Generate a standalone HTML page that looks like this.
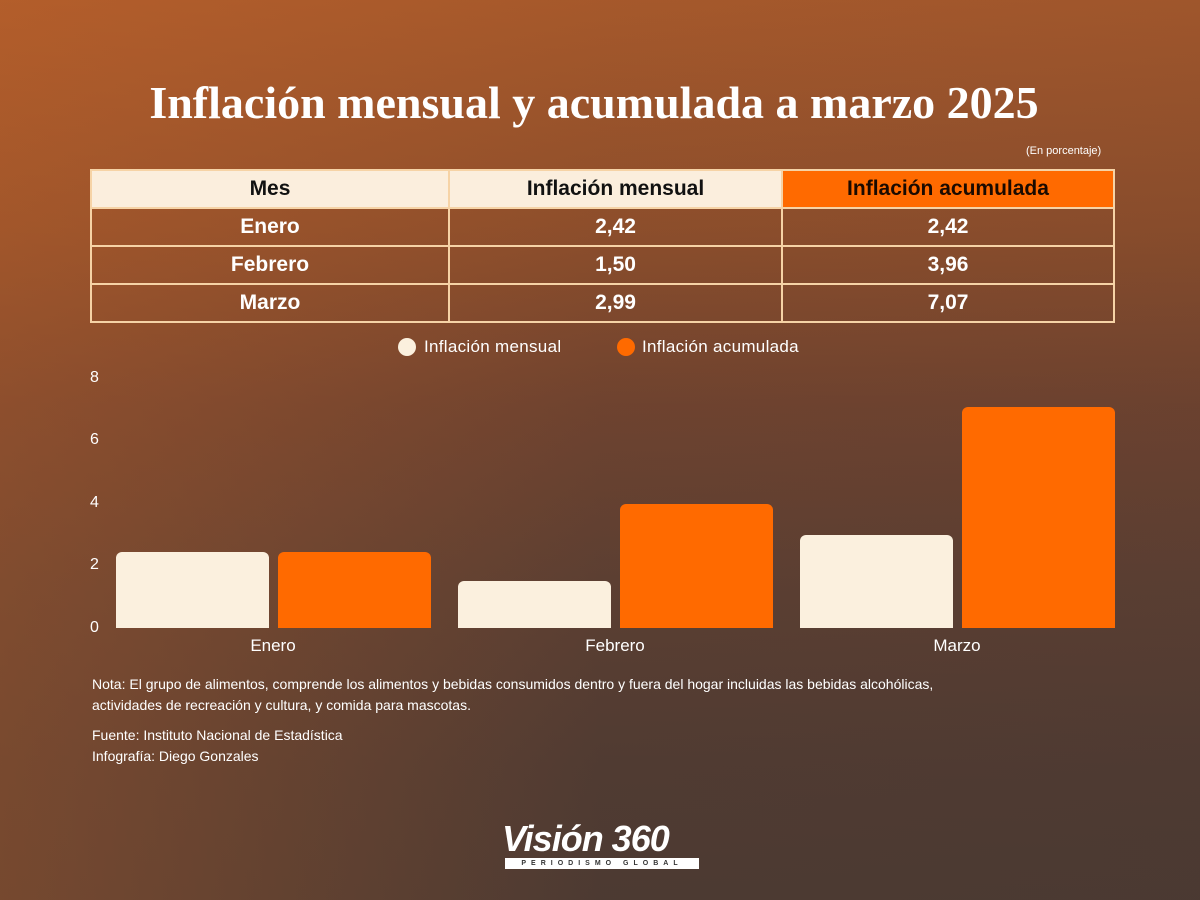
<!DOCTYPE html>
<html><head><meta charset="utf-8"><style>
*{margin:0;padding:0;box-sizing:border-box}
body{width:1200px;height:900px;overflow:hidden;font-family:"Liberation Sans",sans-serif;position:relative;
background:linear-gradient(180deg,#a85a2c 0%,#8e4f2c 25%,#6e4330 45%,#5a3f33 65%,#4e3b33 85%,#4a3a33 100%);}
.ov{position:absolute;inset:0;background:linear-gradient(90deg,rgba(200,100,40,.35) 0%,rgba(120,60,30,.05) 50%,rgba(80,50,40,.1) 100%)}
.t{position:absolute;color:#fff}
table{position:absolute;left:90px;top:169px;width:1025px;border-collapse:collapse;}
td{border:2px solid #f6d3a6;height:38px;text-align:center;font-weight:bold;font-size:21px;color:#fff;}
tr.h td{background:#fbeedd;color:#111}
tr.h td.o{background:#ff6a00;color:#1a0a00}
.bar{position:absolute;border-radius:6px 6px 0 0}
.c{background:#fbf0de}.o{background:#ff6a00}
.yl{position:absolute;left:90px;color:#fff;font-size:16px}
.xl{position:absolute;top:636px;color:#fff;font-size:17px;text-align:center;width:200px}
</style></head><body>
<div class="ov"></div>
<div class="t" style="left:0;width:1188px;top:76px;text-align:center;font-family:'Liberation Serif',serif;font-weight:bold;font-size:46px;white-space:nowrap">Inflación mensual y acumulada a marzo 2025</div>
<div class="t" style="left:1026px;top:145px;font-size:11px">(En porcentaje)</div>
<table>
<tr class="h"><td style="width:358px">Mes</td><td style="width:333px">Inflación mensual</td><td class="o">Inflación acumulada</td></tr>
<tr><td>Enero</td><td>2,42</td><td>2,42</td></tr>
<tr><td>Febrero</td><td>1,50</td><td>3,96</td></tr>
<tr><td>Marzo</td><td>2,99</td><td>7,07</td></tr>
</table>
<div style="position:absolute;left:398px;top:338px;width:18px;height:18px;border-radius:50%;background:#fbf0de"></div>
<div class="t" style="left:424px;top:337px;font-size:17px;letter-spacing:.3px">Inflación mensual</div>
<div style="position:absolute;left:617px;top:338px;width:18px;height:18px;border-radius:50%;background:#ff6a00"></div>
<div class="t" style="left:642px;top:337px;font-size:17px;letter-spacing:.3px">Inflación acumulada</div>
<div class="yl" style="top:369px">8</div><div class="yl" style="top:431px">6</div><div class="yl" style="top:494px">4</div><div class="yl" style="top:556px">2</div><div class="yl" style="top:619px">0</div>
<div class="bar c" style="left:116px;width:153px;top:552px;height:76px"></div>
<div class="bar o" style="left:278px;width:153px;top:552px;height:76px"></div>
<div class="bar c" style="left:458px;width:153px;top:581px;height:47px"></div>
<div class="bar o" style="left:620px;width:153px;top:504px;height:124px"></div>
<div class="bar c" style="left:800px;width:153px;top:535px;height:93px"></div>
<div class="bar o" style="left:962px;width:153px;top:407px;height:221px"></div>
<div class="xl" style="left:173px">Enero</div><div class="xl" style="left:515px">Febrero</div><div class="xl" style="left:857px">Marzo</div>
<div class="t" style="left:92px;top:674px;font-size:14px;line-height:21px">Nota: El grupo de alimentos, comprende los alimentos y bebidas consumidos dentro y fuera del hogar incluidas las bebidas alcohólicas,<br>actividades de recreación y cultura, y comida para mascotas.</div>
<div class="t" style="left:92px;top:725px;font-size:14px;line-height:21px">Fuente: Instituto Nacional de Estadística<br>Infografía: Diego Gonzales</div>
<div class="t" style="left:502px;top:818px;font-size:36px;font-weight:bold;font-style:italic;letter-spacing:-1px;white-space:nowrap">Visión 360</div>
<div style="position:absolute;left:505px;top:858px;width:194px;height:11px;background:#fff;color:#333;font-size:7px;letter-spacing:5px;text-align:center;line-height:11px;font-weight:bold;white-space:nowrap;overflow:hidden">PERIODISMO GLOBAL</div>
</body></html>
